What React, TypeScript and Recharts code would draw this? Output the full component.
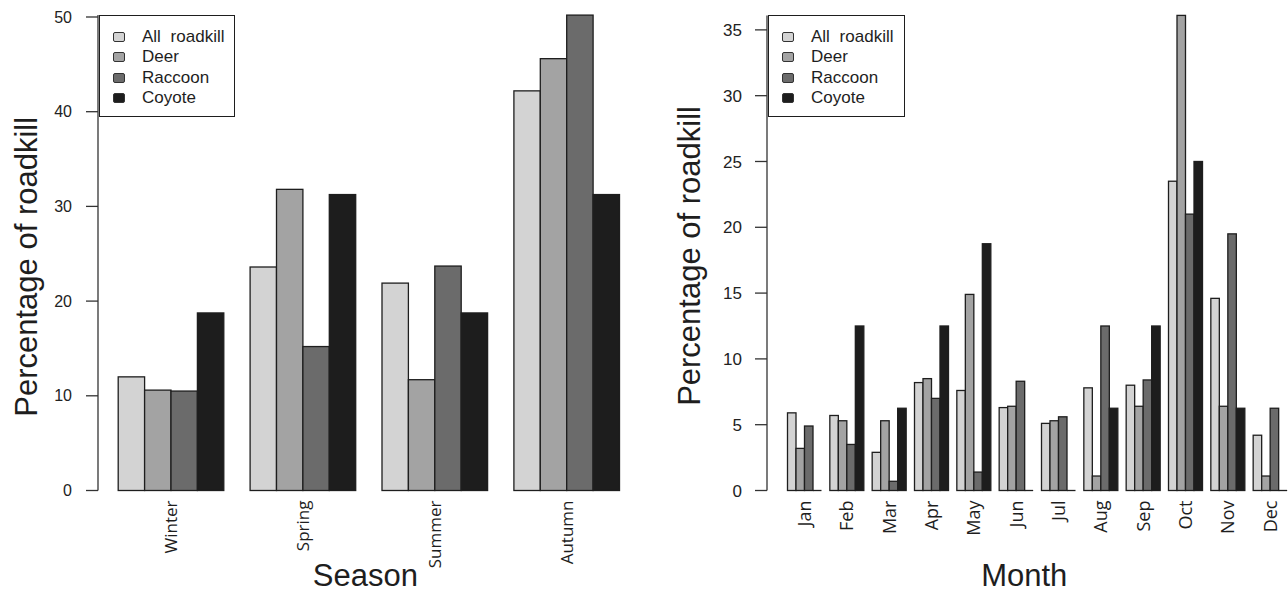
import { BarChart, Bar, XAxis, YAxis, Legend, Label } from 'recharts';

const seriesNames = ['All roadkill', 'Deer', 'Raccoon', 'Coyote'];
const seriesKeys = ['all', 'deer', 'raccoon', 'coyote'];
const seriesColors = ['#d3d3d3', '#a3a3a3', '#6b6b6b', '#1d1d1d'];

// left panel: by season
const seasons = ['Winter', 'Spring', 'Summer', 'Autumn'];
const seasonAll = [12.0, 23.6, 21.9, 42.2];
const seasonDeer = [10.6, 31.8, 11.7, 45.6];
const seasonRaccoon = [10.5, 15.2, 23.7, 50.2];
const seasonCoyote = [18.75, 31.25, 18.75, 31.25];
const seasonTicks = [0, 10, 20, 30, 40, 50];

// right panel: by month
const months = ['Jan', 'Feb', 'Mar', 'Apr', 'May', 'Jun', 'Jul', 'Aug', 'Sep', 'Oct', 'Nov', 'Dec'];
const monthAll = [5.9, 5.7, 2.9, 8.2, 7.6, 6.3, 5.1, 7.8, 8.0, 23.5, 14.6, 4.2];
const monthDeer = [3.2, 5.3, 5.3, 8.5, 14.9, 6.4, 5.3, 1.1, 6.4, 36.1, 6.4, 1.1];
const monthRaccoon = [4.9, 3.5, 0.7, 7.0, 1.4, 8.3, 5.6, 12.5, 8.4, 21.0, 19.5, 6.25];
const monthCoyote = [0, 12.5, 6.25, 12.5, 18.75, 0, 0, 6.25, 12.5, 25.0, 6.25, 0];
const monthTicks = [0, 5, 10, 15, 20, 25, 30, 35];

const seasonData = seasons.map((label, i) => ({
  label,
  all: seasonAll[i],
  deer: seasonDeer[i],
  raccoon: seasonRaccoon[i],
  coyote: seasonCoyote[i],
}));

const monthData = months.map((label, i) => ({
  label,
  all: monthAll[i],
  deer: monthDeer[i],
  raccoon: monthRaccoon[i],
  coyote: monthCoyote[i],
}));

const ARIAL = '"Liberation Sans", Arial, Helvetica, sans-serif';
const OPEN = '"Open Sans", "Liberation Sans", sans-serif';
const INK = '#1e1e1e';

// R draws zero-height bars as a flat line, so keep those
function OutlinedBar(props: any) {
  const { x, y, width, height, fill } = props;
  if (!height) {
    return <line x1={x} x2={x + width} y1={y} y2={y} stroke={INK} strokeWidth={1.3} />;
  }
  return <rect x={x} y={y} width={width} height={height} fill={fill} stroke={INK} strokeWidth={1.3} />;
}

function LegendBox({ width }: { width: number }) {
  return (
    <div
      style={{
        width,
        height: 102,
        border: `1.3px solid ${INK}`,
        background: '#fff',
        boxSizing: 'border-box',
        padding: '11px 0 0 13px',
        fontFamily: ARIAL,
        fontSize: 17,
        color: INK,
      }}
    >
      {seriesNames.map((name, i) => (
        <div key={name} style={{ display: 'flex', alignItems: 'center', height: 20.3 }}>
          <span
            style={{
              width: 12,
              height: 10,
              background: seriesColors[i],
              border: '1px solid #333',
              borderRadius: 2,
              boxSizing: 'border-box',
              marginRight: 17,
            }}
          />
          <span style={{ wordSpacing: 5, whiteSpace: 'nowrap' }}>{name}</span>
        </div>
      ))}
    </div>
  );
}

interface PanelProps {
  data: any[];
  ticks: number[];
  left: number;
  width: number;
  yAxisWidth: number;
  padLeft: number;
  marginRight: number;
  barSize: number;
  tickFont: number;
  yTickFont: number;
  tickMargin: number;
  yTitle: string;
  yTitleX: number;
  yTitleShift: number;
  xTitle: string;
  xTitleShift: number;
  legendWidth: number;
  marginTop: number;
}

function Panel(p: PanelProps) {
  return (
    <div style={{ position: 'absolute', left: p.left, top: 0 }}>
      <BarChart
        width={p.width}
        height={594}
        data={p.data}
        margin={{ top: p.marginTop, right: p.marginRight, bottom: 0, left: 0 }}
        barGap={0}
        barSize={p.barSize}
      >
        <XAxis
          dataKey="label"
          axisLine={false}
          tickLine={false}
          tickSize={8}
          tickMargin={2}
          height={594 - 490.5}
          padding={{ left: p.padLeft, right: 0 }}
          interval={0}
          tick={(t: any) => (
            <text
              x={t.x}
              y={t.y}
              transform={`rotate(-90, ${t.x}, ${t.y})`}
              textAnchor="end"
              dy="0.36em"
              fontSize={p.tickFont}
              fontFamily={OPEN}
              fill={INK}
            >
              {t.payload.value}
            </text>
          )}
        >
          <Label
            content={(lp: any) => {
              const vb = lp.viewBox;
              return (
                <text
                  x={vb.x + vb.width / 2 + p.xTitleShift}
                  y={586}
                  textAnchor="middle"
                  fontSize={31}
                  fontFamily={ARIAL}
                  fill={INK}
                >
                  {p.xTitle}
                </text>
              );
            }}
          />
        </XAxis>
        <YAxis
          type="number"
          domain={[0, 'dataMax']}
          ticks={p.ticks}
          width={p.yAxisWidth}
          tickSize={12}
          tickMargin={p.tickMargin}
          axisLine={{ stroke: '#333', strokeWidth: 1.3 }}
          tickLine={{ stroke: '#333', strokeWidth: 1.3 }}
          tick={{ fontSize: p.yTickFont, fontFamily: ARIAL, fill: '#222' }}
        >
          <Label
            content={(lp: any) => {
              const vb = lp.viewBox;
              const cx = vb.x + p.yTitleX;
              const cy = vb.y + vb.height / 2 + p.yTitleShift;
              return (
                <text
                  x={cx}
                  y={cy}
                  transform={`rotate(-90, ${cx}, ${cy})`}
                  textAnchor="middle"
                  fontSize={31}
                  fontFamily={ARIAL}
                  fill={INK}
                >
                  {p.yTitle}
                </text>
              );
            }}
          />
        </YAxis>
        <Legend
          layout="vertical"
          align="center"
          verticalAlign="middle"
          wrapperStyle={{ left: p.yAxisWidth + 1, top: 15, width: p.legendWidth }}
          content={() => <LegendBox width={p.legendWidth} />}
        />
        {seriesKeys.map((key, i) => (
          <Bar
            key={key}
            dataKey={key}
            name={seriesNames[i]}
            fill={seriesColors[i]}
            shape={OutlinedBar}
            isAnimationActive={false}
          />
        ))}
      </BarChart>
    </div>
  );
}

export default function App() {
  return (
    <div
      style={{
        position: 'absolute',
        left: 0,
        top: 0,
        width: 1288,
        height: 594,
        overflow: 'hidden',
        background: '#fff',
      }}
    >
      <Panel
        data={seasonData}
        ticks={seasonTicks}
        left={0}
        width={650}
        yAxisWidth={98}
        padLeft={7.2}
        marginRight={17.2}
        marginTop={15.1}
        barSize={26.4}
        tickFont={17}
        yTickFont={16}
        tickMargin={14}
        yTitle="Percentage of roadkill"
        yTitleX={37}
        yTitleShift={14}
        xTitle="Season"
        xTitleShift={0}
        legendWidth={136}
      />
      <Panel
        data={monthData}
        ticks={monthTicks}
        left={650}
        width={641.5}
        yAxisWidth={117}
        padLeft={16.5}
        marginRight={0}
        marginTop={15.4}
        barSize={8.5}
        tickFont={18}
        yTickFont={17}
        tickMargin={13}
        yTitle="Percentage of roadkill"
        yTitleX={50}
        yTitleShift={3}
        xTitle="Month"
        xTitleShift={-5}
        legendWidth={137}
      />
    </div>
  );
}
